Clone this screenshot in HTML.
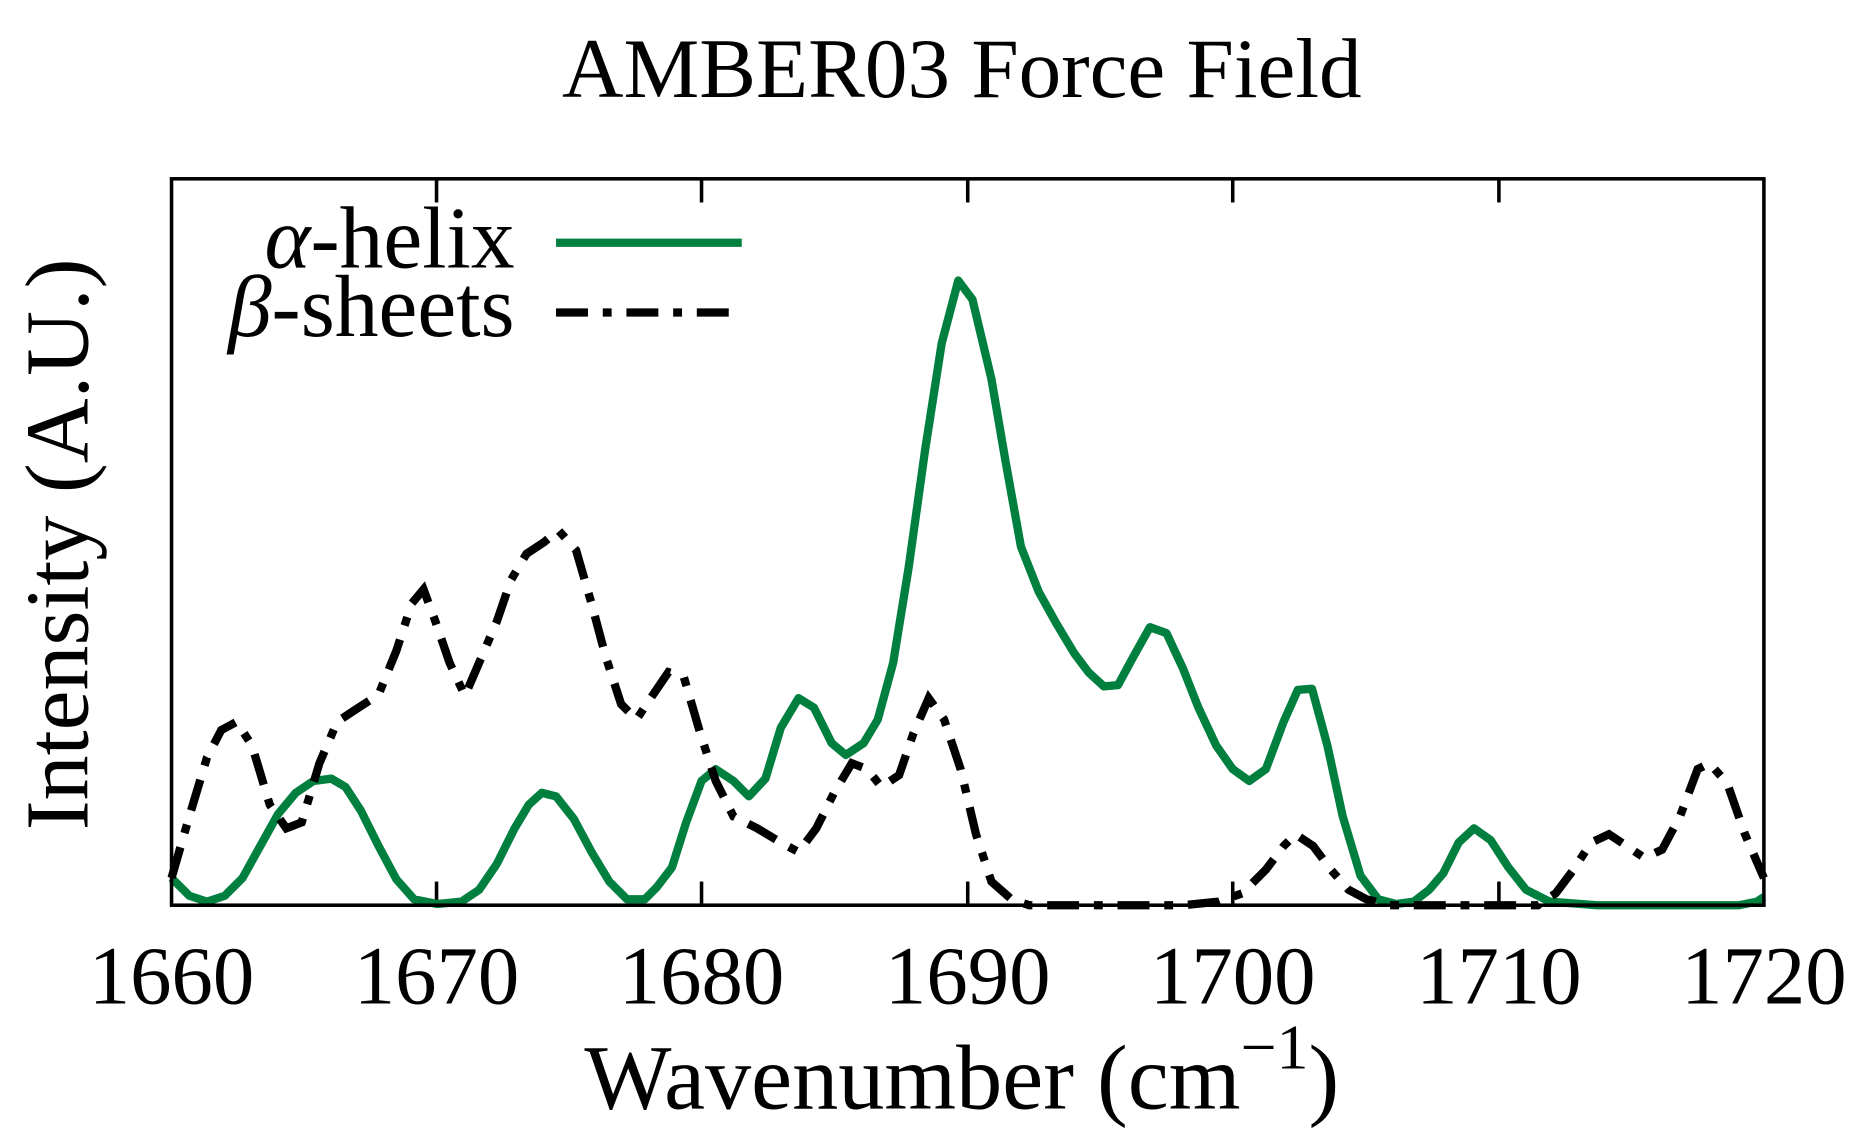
<!DOCTYPE html>
<html><head><style>html,body{margin:0;padding:0;background:#fff;}svg{display:block;}</style></head>
<body>
<svg width="1855" height="1142" viewBox="0 0 1568 965" xmlns="http://www.w3.org/2000/svg" font-family="'Liberation Serif', serif">
<rect width="1568" height="965" fill="#fff"/>
<text x="813" y="82" font-size="72" text-anchor="middle">AMBER03 Force Field</text>
<g stroke="#000" stroke-width="3">
<line x1="369" y1="151" x2="369" y2="171"/><line x1="593" y1="151" x2="593" y2="171"/><line x1="818" y1="151" x2="818" y2="171"/><line x1="1042" y1="151" x2="1042" y2="171"/><line x1="1267" y1="151" x2="1267" y2="171"/>
<line x1="369" y1="765" x2="369" y2="745"/><line x1="593" y1="765" x2="593" y2="745"/><line x1="818" y1="765" x2="818" y2="745"/><line x1="1042" y1="765" x2="1042" y2="745"/><line x1="1267" y1="765" x2="1267" y2="745"/>
</g>
<polyline fill="none" stroke="#007f3f" stroke-width="7" stroke-linejoin="round" points="145,742 160,757 175,762 190,757 205,742 220,715 235,688 250,670 265,660 280,658 292,665 305,685 320,715 335,743 350,760 370,764 390,762 405,752 420,730 435,700 447,680 458,670 470,673 485,692 500,720 515,745 530,760 545,760 555,750 568,733 580,695 593,660 605,650 620,660 633,673 647,658 660,615 675,590 688,598 703,628 715,638 730,628 742,608 755,560 768,480 782,380 796,290 810,237 822,253 838,320 850,390 863,462 878,500 893,527 908,552 920,568 933,580 945,579 958,555 972,530 986,535 1000,565 1013,598 1028,630 1042,650 1056,660 1070,650 1085,610 1097,583 1109,582 1122,630 1135,690 1150,740 1165,760 1180,764 1195,762 1208,752 1220,738 1233,712 1246,700 1260,710 1275,733 1290,752 1310,762 1350,765 1470,765 1485,762 1491,758"/>
<polyline fill="none" stroke="#000" stroke-width="7" stroke-dasharray="27 12.5 7.5 12.5" points="145,742 160,690 175,640 187,617 200,610 213,630 228,680 242,700 255,695 270,645 285,610 300,600 320,587 335,550 348,510 358,498 368,525 380,560 393,588 405,560 420,525 432,490 445,468 460,458 472,448 487,465 500,510 512,555 525,595 538,608 550,590 565,568 578,572 592,620 605,660 620,690 640,700 660,712 675,720 690,700 705,670 720,645 733,650 745,665 760,655 772,620 785,590 798,608 812,650 825,705 838,745 855,760 870,765 1000,765 1030,762 1050,755 1070,735 1085,715 1095,705 1110,715 1125,735 1140,752 1155,760 1175,765 1300,765 1315,755 1330,735 1345,712 1360,705 1375,715 1390,725 1405,718 1420,690 1435,650 1445,645 1460,662 1475,705 1491,742"/>
<rect x="145" y="151" width="1346" height="614" fill="none" stroke="#000" stroke-width="3"/>
<text x="435" y="226" font-size="74" text-anchor="end"><tspan font-style="italic">α</tspan>-helix</text>
<line x1="470" y1="205" x2="627" y2="205" stroke="#007f3f" stroke-width="7"/>
<text x="435" y="284" font-size="74" text-anchor="end"><tspan font-style="italic">β</tspan>-sheets</text>
<line x1="470" y1="264" x2="627" y2="264" stroke="#000" stroke-width="7" stroke-dasharray="27 12.5 7.5 12.5"/>
<g font-size="70" text-anchor="middle">
<text x="145" y="848">1660</text><text x="369" y="848">1670</text><text x="593" y="848">1680</text><text x="818" y="848">1690</text><text x="1042" y="848">1700</text><text x="1267" y="848">1710</text><text x="1491" y="848">1720</text>
</g>
<text x="813" y="937" font-size="78" text-anchor="middle">Wavenumber (cm<tspan dy="-34" font-size="54">−1</tspan><tspan dy="34">)</tspan></text>
<text transform="translate(74,460) rotate(-90)" font-size="76" text-anchor="middle">Intensity (A.U.)</text>
</svg>
</body></html>
